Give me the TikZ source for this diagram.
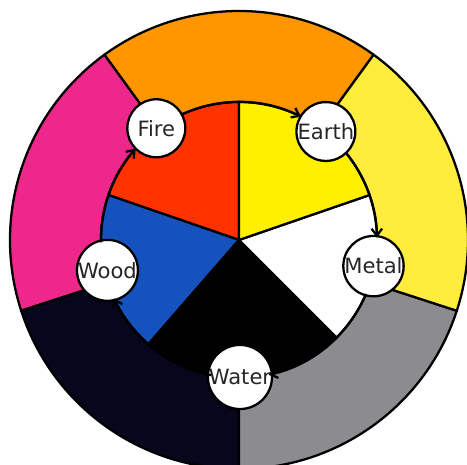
\documentclass[tikz,border=0pt]{standalone}
\usepackage{fontspec}
\setmainfont{DejaVu Sans}
\usetikzlibrary{arrows.meta, positioning}
\definecolor{fireorange}{RGB}{255,150,0}
\definecolor{palegold}{RGB}{255,236,60}
\definecolor{stonegrey}{RGB}{140,140,144}
\definecolor{nightnavy}{RGB}{6,6,28}
\definecolor{woodpink}{RGB}{238,40,138}
\definecolor{firered}{RGB}{255,50,0}
\definecolor{earthyellow}{RGB}{255,240,0}
\definecolor{woodblue}{RGB}{22,82,190}

\begin{document}
\begin{tikzpicture}[
    elem/.style={circle, draw=black, fill=white, line width=1.3pt,
                 minimum size=1.16cm, inner sep=0pt,
                 font=\fontsize{12}{13}\selectfont, text=black!85},
    arr/.style={-{Straight Barb[length=4pt,width=6pt]}, line width=1.3pt, draw=black},
    sector/.style={draw=black, line width=1.3pt}
  ]
  \useasboundingbox (-4.78,-4.5) rectangle (4.56,4.8);
  % outer ring
  \filldraw[sector, fill=fireorange] (0,0) -- (54:4.58) arc[start angle=54, end angle=126, radius=4.58] -- cycle;
  \filldraw[sector, fill=woodpink]   (0,0) -- (126:4.58) arc[start angle=126, end angle=198, radius=4.58] -- cycle;
  \filldraw[sector, fill=nightnavy]  (0,0) -- (198:4.58) arc[start angle=198, end angle=270, radius=4.58] -- cycle;
  \filldraw[sector, fill=stonegrey]  (0,0) -- (270:4.58) arc[start angle=270, end angle=342, radius=4.58] -- cycle;
  \filldraw[sector, fill=palegold]   (0,0) -- (342:4.58) arc[start angle=342, end angle=414, radius=4.58] -- cycle;
  % inner wheel
  \filldraw[sector, fill=firered]     (0,0) -- (90:2.76) arc[start angle=90, end angle=161, radius=2.76] -- cycle;
  \filldraw[sector, fill=woodblue]    (0,0) -- (161:2.76) arc[start angle=161, end angle=229, radius=2.76] -- cycle;
  \filldraw[sector, fill=black]       (0,0) -- (229:2.76) arc[start angle=229, end angle=315, radius=2.76] -- cycle;
  \filldraw[sector, fill=white]       (0,0) -- (315:2.76) arc[start angle=315, end angle=379, radius=2.76] -- cycle;
  \filldraw[sector, fill=earthyellow] (0,0) -- (19:2.76) arc[start angle=19, end angle=90, radius=2.76] -- cycle;
  % elements
  \node[elem] (fire)  at (126.5:2.78) {Fire};
  \node[elem] (earth) at (51.3:2.78)  {Earth};
  \node[elem] (metal) at (-11:2.74)   {Metal};
  \node[elem] (water) at (-89.6:2.74) {Water};
  \node[elem] (wood)  at (193:2.7)    {Wood};
  % arrow starts, where the rim leaves each element
  \coordinate (fire-out)  at (114.5:2.76);
  \coordinate (earth-out) at (39.3:2.76);
  \coordinate (metal-out) at (-23:2.76);
  \coordinate (water-out) at (-101.6:2.76);
  \coordinate (wood-out)  at (181:2.76);
  \draw[arr] (fire-out)  arc[start angle=114.5, end angle=63.3, radius=2.76];
  \draw[arr] (earth-out) arc[start angle=39.3, end angle=1, radius=2.76];
  \draw[arr] (metal-out) arc[start angle=-23, end angle=-77.6, radius=2.76];
  \draw[arr] (water-out) arc[start angle=-101.6, end angle=-155, radius=2.76];
  \draw[arr] (wood-out)  arc[start angle=181, end angle=138.5, radius=2.76];
\end{tikzpicture}
\end{document}
